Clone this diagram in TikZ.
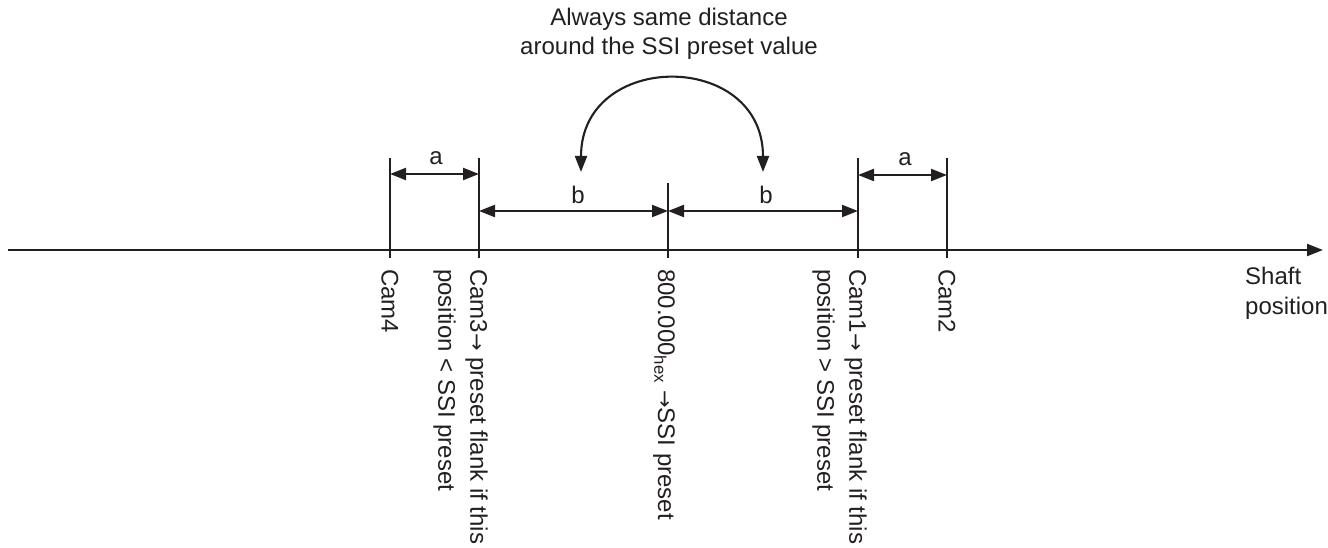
\documentclass[tikz,border=0pt]{standalone}
\usepackage{fontspec}
\setmainfont{Liberation Sans}
\newfontfamily\arrowfont{DejaVu Sans}
\newcommand{\rarr}{{\arrowfont\fontsize{21}{21}\selectfont →}}
\usetikzlibrary{arrows.meta}
\definecolor{ink}{HTML}{231F20}
\begin{document}
\begin{tikzpicture}[x=1pt,y=-1pt,
  ln/.style={line width=2.1pt, draw=ink},
  dim/.style={ln, {Triangle[length=16pt,width=12pt]}-{Triangle[length=16pt,width=12pt]}},
  lab/.style={font=\fontsize{24}{29.5}\selectfont, inner sep=0pt, text=ink},
  vlab/.style={lab, rotate=-90, align=left, font=\fontsize{24}{32}\selectfont}]
\useasboundingbox (0,0) rectangle (1328,548);

% axis
\coordinate (ax0) at (8,250);
\coordinate (ax1) at (1323,250);
\draw[ln, -{Triangle[length=16pt,width=12pt]}] (ax0) -- (ax1);

% ticks
\coordinate (t4a) at (390,158); \coordinate (t4b) at (390,258);
\coordinate (t3a) at (479,158); \coordinate (t3b) at (479,258);
\coordinate (tma) at (668,183); \coordinate (tmb) at (668,258);
\coordinate (t1a) at (858,158); \coordinate (t1b) at (858,258);
\coordinate (t2a) at (947,158); \coordinate (t2b) at (947,258);
\foreach \t in {t4,t3,tm,t1,t2} \draw[ln] (\t a) -- (\t b);

% dimension arrows
\coordinate (a1l) at (390,174); \coordinate (a1r) at (479,174);
\coordinate (b1l) at (479,211); \coordinate (b1r) at (668,211);
\coordinate (b2l) at (668,211); \coordinate (b2r) at (858,211);
\coordinate (a2l) at (858,175); \coordinate (a2r) at (947,175);
\draw[dim] (a1l) -- (a1r);
\draw[dim] (b1l) -- (b1r);
\draw[dim] (b2l) -- (b2r);
\draw[dim] (a2l) -- (a2r);
\node[lab] (la1) at (436,158) {a};
\node[lab] (lb1) at (578,195) {b};
\node[lab] (lb2) at (766,195) {b};
\node[lab] (la2) at (905,159) {a};

% curved arrow
\coordinate (arcL) at (581,172);
\coordinate (arcR) at (763,172);
\draw[dim] (arcL) .. controls (581,50) and (763,50) .. (arcR);

% title
\node[lab, align=center] (title) at (669,34) {Always same distance\\around the SSI preset value};

% shaft label
\node[lab, align=left, anchor=north west] (shaft) at (1245,267) {Shaft\\position};

% rotated labels
\node[vlab, anchor=west] (cam4) at (390,269) {Cam4};
\node[vlab, anchor=north west] (cam3) at (488,269) {Cam3\rarr\ preset flank if this\\position < SSI preset};
\node[vlab, anchor=base west] (mid) at (658,269) {800.000\textsubscript{hex} \rarr SSI preset};
\node[vlab, anchor=north west] (cam1) at (867,269) {Cam1\rarr\ preset flank if this\\position > SSI preset};
\node[vlab, anchor=west] (cam2) at (947,269) {Cam2};
\end{tikzpicture}
\end{document}
